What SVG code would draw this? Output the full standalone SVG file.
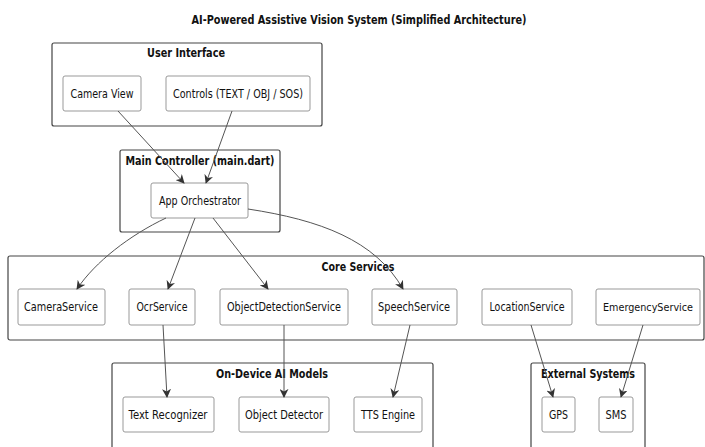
<svg xmlns="http://www.w3.org/2000/svg" width="705" height="447" viewBox="0 0 705 447">
<style>
text{font-family:"DejaVu Sans","Liberation Sans",sans-serif;fill:#111}
.t{font-size:12px;font-weight:bold;text-anchor:middle}
.g{fill:#fff;stroke:#444;stroke-width:1.2}
.gt{font-size:12px;font-weight:bold;text-anchor:middle}
.n{fill:#fff;stroke:#999;stroke-width:1}
.nt{font-size:12px;text-anchor:middle}
.c{fill:none;stroke:#555;stroke-width:1;marker-end:url(#a)}
</style>
<defs>
<marker id="a" viewBox="0 0 10 10" refX="9" refY="5" markerWidth="9" markerHeight="9" orient="auto-start-reverse" markerUnits="userSpaceOnUse">
<path d="M0,0 L10,5 L0,10 L3,5 z" fill="#333"/>
</marker>
</defs>
<rect width="705" height="447" fill="#fff"/>
<text class="t" x="359" y="24" textLength="335" lengthAdjust="spacingAndGlyphs">AI-Powered Assistive Vision System (Simplified Architecture)</text>

<g id="user-interface">
<rect class="g" x="52" y="43" width="270" height="83" rx="2"/>
<text class="gt" x="186" y="57" textLength="78" lengthAdjust="spacingAndGlyphs">User Interface</text>
</g>
<g id="camera-view"><rect class="n" x="63" y="76" width="78" height="35" rx="2"/><text class="nt" x="102" y="98" textLength="63" lengthAdjust="spacingAndGlyphs">Camera View</text></g>
<g id="controls"><rect class="n" x="166" y="76" width="144" height="35" rx="2"/><text class="nt" x="238" y="98" textLength="130" lengthAdjust="spacingAndGlyphs">Controls (TEXT / OBJ / SOS)</text></g>

<g id="main-controller">
<rect class="g" x="120" y="150" width="160" height="82" rx="2"/>
<text class="gt" x="200" y="165" textLength="149" lengthAdjust="spacingAndGlyphs">Main Controller (main.dart)</text>
</g>
<g id="app-orchestrator"><rect class="n" x="151" y="183" width="97" height="35" rx="2"/><text class="nt" x="200" y="205" textLength="82" lengthAdjust="spacingAndGlyphs">App Orchestrator</text></g>

<g id="core-services">
<rect class="g" x="8" y="256" width="696" height="84" rx="2"/>
<text class="gt" x="358" y="271" textLength="73" lengthAdjust="spacingAndGlyphs">Core Services</text>
</g>
<g id="camera-service"><rect class="n" x="18" y="289" width="87" height="36" rx="2"/><text class="nt" x="61" y="311" textLength="74" lengthAdjust="spacingAndGlyphs">CameraService</text></g>
<g id="ocr-service"><rect class="n" x="129" y="289" width="66" height="36" rx="2"/><text class="nt" x="162" y="311" textLength="51" lengthAdjust="spacingAndGlyphs">OcrService</text></g>
<g id="object-detection-service"><rect class="n" x="220" y="289" width="128" height="36" rx="2"/><text class="nt" x="284" y="311" textLength="114" lengthAdjust="spacingAndGlyphs">ObjectDetectionService</text></g>
<g id="speech-service"><rect class="n" x="372" y="289" width="85" height="36" rx="2"/><text class="nt" x="414" y="311" textLength="72" lengthAdjust="spacingAndGlyphs">SpeechService</text></g>
<g id="location-service"><rect class="n" x="482" y="289" width="90" height="36" rx="2"/><text class="nt" x="527" y="311" textLength="75" lengthAdjust="spacingAndGlyphs">LocationService</text></g>
<g id="emergency-service"><rect class="n" x="596" y="289" width="104" height="36" rx="2"/><text class="nt" x="648" y="311" style="font-size:11px" textLength="90" lengthAdjust="spacingAndGlyphs">EmergencyService</text></g>

<g id="on-device-ai-models">
<rect class="g" x="112" y="363" width="321" height="90" rx="2"/>
<text class="gt" x="272" y="378" textLength="112" lengthAdjust="spacingAndGlyphs">On-Device AI Models</text>
</g>
<g id="text-recognizer"><rect class="n" x="123" y="397" width="91" height="35" rx="2"/><text class="nt" x="168" y="419" textLength="79" lengthAdjust="spacingAndGlyphs">Text Recognizer</text></g>
<g id="object-detector"><rect class="n" x="239" y="397" width="90" height="35" rx="2"/><text class="nt" x="284" y="419" textLength="78" lengthAdjust="spacingAndGlyphs">Object Detector</text></g>
<g id="tts-engine"><rect class="n" x="354" y="397" width="68" height="35" rx="2"/><text class="nt" x="388" y="419" textLength="54" lengthAdjust="spacingAndGlyphs">TTS Engine</text></g>

<g id="external-systems">
<rect class="g" x="531" y="363" width="114" height="90" rx="2"/>
<text class="gt" x="588" y="378" textLength="94" lengthAdjust="spacingAndGlyphs">External Systems</text>
</g>
<g id="gps"><rect class="n" x="542" y="397" width="33" height="35" rx="2"/><text class="nt" x="558.5" y="419" textLength="19" lengthAdjust="spacingAndGlyphs">GPS</text></g>
<g id="sms"><rect class="n" x="599" y="397" width="34" height="35" rx="2"/><text class="nt" x="616" y="419" textLength="21" lengthAdjust="spacingAndGlyphs">SMS</text></g>

<g id="connectors">
<path class="c" d="M118,111 L184,183"/>
<path class="c" d="M232,111 L206,183"/>
<path class="c" d="M166,218 C130,235 95,262 77,289"/>
<path class="c" d="M195,218 L168,289"/>
<path class="c" d="M213,218 L268,289"/>
<path class="c" d="M248,209 C320,220 375,240 403,289"/>
<path class="c" d="M163,325 L167,397"/>
<path class="c" d="M284,325 L284,397"/>
<path class="c" d="M410,325 L393,397"/>
<path class="c" d="M531,325 L553,397"/>
<path class="c" d="M643,325 L621,397"/>
</g>
</svg>
